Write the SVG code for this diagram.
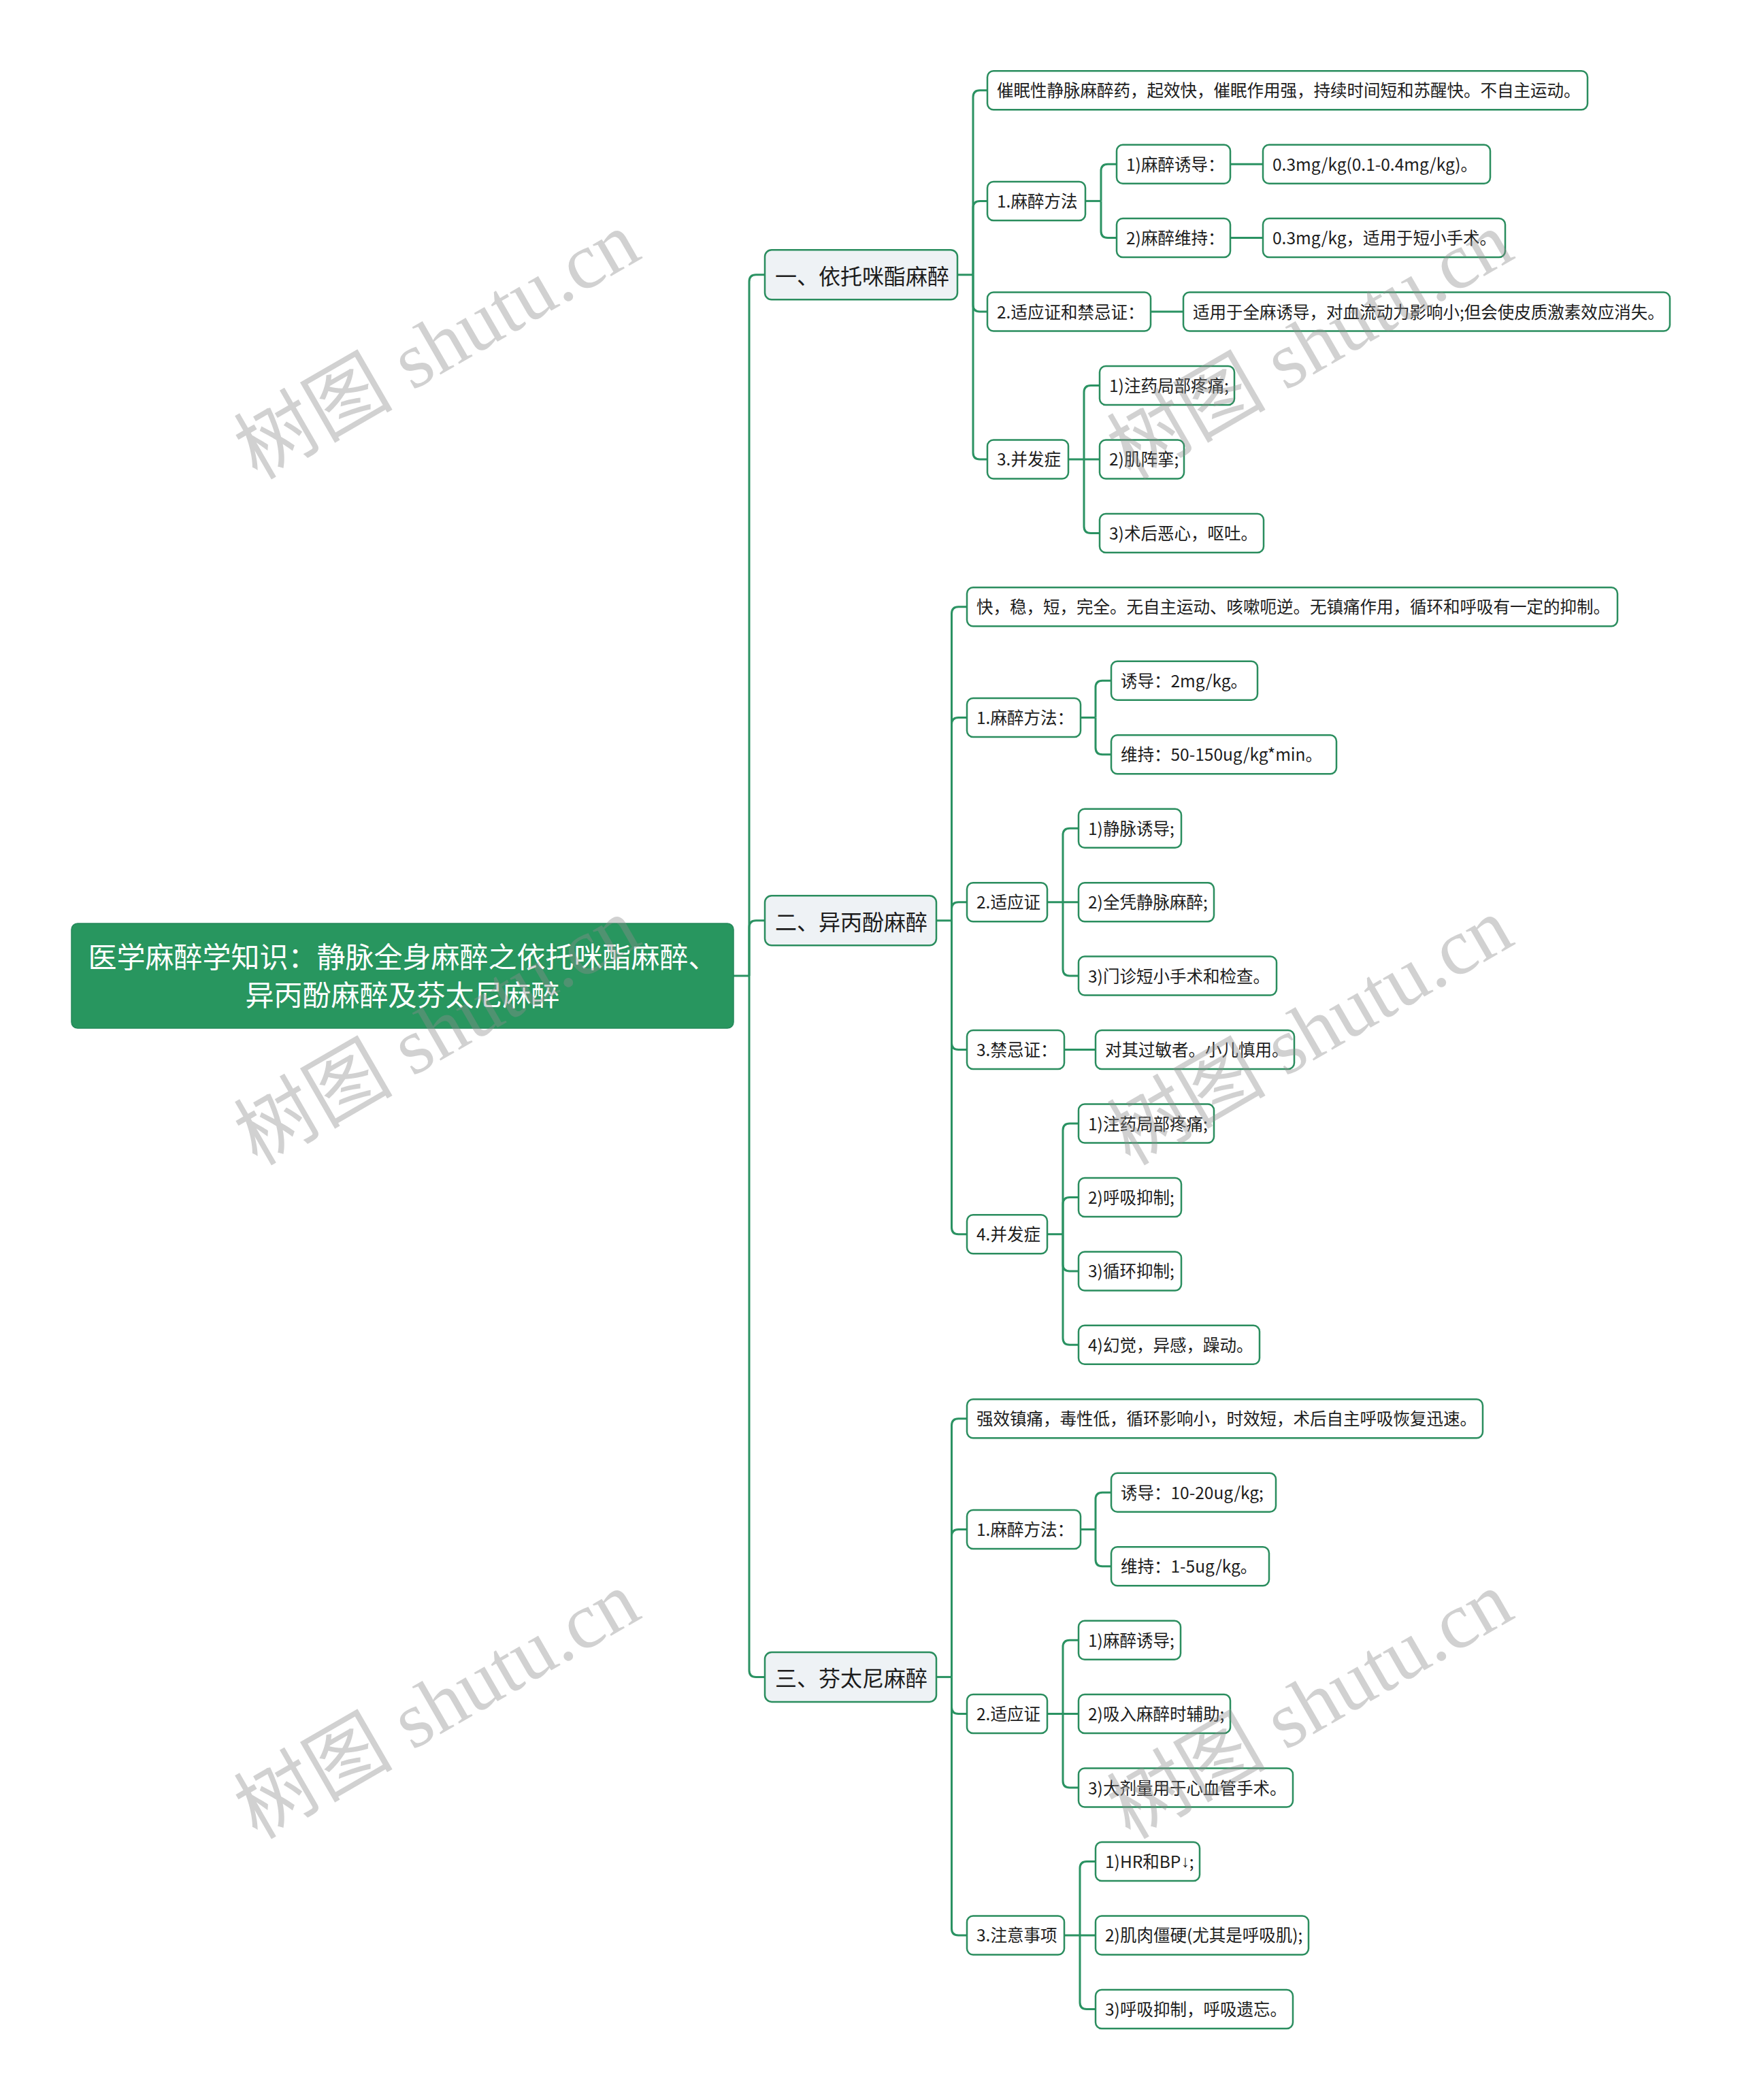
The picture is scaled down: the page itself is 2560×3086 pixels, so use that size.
<svg xmlns="http://www.w3.org/2000/svg" width="2560" height="3086" viewBox="0 0 2560 3086">
<style>
.bg{fill:#ffffff}
.n rect{fill:#ffffff;stroke:#2a8d5e;stroke-width:2.5}
.n text{font-family:"Noto Sans CJK SC","Noto Sans",sans-serif;font-size:24.5px;fill:#1c1c1c;dominant-baseline:central}
.arr{font-family:"Liberation Sans","DejaVu Sans",sans-serif}
.l1 rect{fill:#eef2f5;stroke:#2a8d5e;stroke-width:2.5}
.l1 text{font-family:"Noto Sans CJK SC","Noto Sans",sans-serif;font-size:32px;fill:#1c1c1c;dominant-baseline:central}
.root rect{fill:#28965f;stroke:#23885a;stroke-width:1.5}
.root text{font-family:"Noto Sans CJK SC","Noto Sans",sans-serif;font-size:42px;fill:#ffffff;text-anchor:middle;dominant-baseline:central}
.links path{fill:none;stroke:#2a9262;stroke-width:3}
.wm text{font-family:"Liberation Serif","Noto Sans CJK SC",serif;font-size:117px;fill:#8c8c8c;fill-opacity:0.4;text-anchor:middle}
</style>
<rect class="bg" x="0" y="0" width="2560" height="3086"/>
<g class="links">
<path d="M1078 1434 H1101"/>
<path d="M1101 1434 V413.8 Q1101 403.8 1111 403.8 H1124"/>
<path d="M1101 1434 V1362.8 Q1101 1352.8 1111 1352.8 H1124"/>
<path d="M1101 1434 V2454.4 Q1101 2464.4 1111 2464.4 H1124"/>
<path d="M1407 403.8 H1430"/>
<path d="M1430 403.8 V142.7 Q1430 132.7 1440 132.7 H1451"/>
<path d="M1430 403.8 V305.4 Q1430 295.4 1440 295.4 H1451"/>
<path d="M1430 403.8 V448.05 Q1430 458.05 1440 458.05 H1451"/>
<path d="M1430 403.8 V664.95 Q1430 674.95 1440 674.95 H1451"/>
<path d="M1595 295.4 H1618"/>
<path d="M1618 295.4 V251.15 Q1618 241.15 1628 241.15 H1641"/>
<path d="M1618 295.4 V339.6 Q1618 349.6 1628 349.6 H1641"/>
<path d="M1808 241.15 H1856"/>
<path d="M1808 349.6 H1856"/>
<path d="M1691 458.05 H1739"/>
<path d="M1570 674.95 H1616"/>
<path d="M1593 674.95 V576.5 Q1593 566.5 1603 566.5 H1616"/>
<path d="M1593 674.95 V773.4 Q1593 783.4 1603 783.4 H1616"/>
<path d="M1376 1352.8 H1398.5"/>
<path d="M1398.5 1352.8 V901.85 Q1398.5 891.85 1408.5 891.85 H1421"/>
<path d="M1398.5 1352.8 V1064.5 Q1398.5 1054.5 1408.5 1054.5 H1421"/>
<path d="M1398.5 1352.8 V1335.65 Q1398.5 1325.65 1408.5 1325.65 H1421"/>
<path d="M1398.5 1352.8 V1532.55 Q1398.5 1542.55 1408.5 1542.55 H1421"/>
<path d="M1398.5 1352.8 V1803.7 Q1398.5 1813.7 1408.5 1813.7 H1421"/>
<path d="M1588 1054.5 H1610"/>
<path d="M1610 1054.5 V1010.3 Q1610 1000.3 1620 1000.3 H1633"/>
<path d="M1610 1054.5 V1098.75 Q1610 1108.75 1620 1108.75 H1633"/>
<path d="M1539 1325.65 H1585"/>
<path d="M1562 1325.65 V1227.2 Q1562 1217.2 1572 1217.2 H1585"/>
<path d="M1562 1325.65 V1424.1 Q1562 1434.1 1572 1434.1 H1585"/>
<path d="M1564 1542.55 H1610"/>
<path d="M1539 1813.7 H1562"/>
<path d="M1562 1813.7 V1661 Q1562 1651 1572 1651 H1585"/>
<path d="M1562 1813.7 V1769.45 Q1562 1759.45 1572 1759.45 H1585"/>
<path d="M1562 1813.7 V1857.9 Q1562 1867.9 1572 1867.9 H1585"/>
<path d="M1562 1813.7 V1966.35 Q1562 1976.35 1572 1976.35 H1585"/>
<path d="M1376 2464.4 H1398.5"/>
<path d="M1398.5 2464.4 V2094.8 Q1398.5 2084.8 1408.5 2084.8 H1421"/>
<path d="M1398.5 2464.4 V2257.5 Q1398.5 2247.5 1408.5 2247.5 H1421"/>
<path d="M1398.5 2464.4 V2508.6 Q1398.5 2518.6 1408.5 2518.6 H1421"/>
<path d="M1398.5 2464.4 V2833.95 Q1398.5 2843.95 1408.5 2843.95 H1421"/>
<path d="M1588 2247.5 H1610"/>
<path d="M1610 2247.5 V2203.25 Q1610 2193.25 1620 2193.25 H1633"/>
<path d="M1610 2247.5 V2291.7 Q1610 2301.7 1620 2301.7 H1633"/>
<path d="M1539 2518.6 H1585"/>
<path d="M1562 2518.6 V2420.15 Q1562 2410.15 1572 2410.15 H1585"/>
<path d="M1562 2518.6 V2617.05 Q1562 2627.05 1572 2627.05 H1585"/>
<path d="M1564 2843.95 H1610"/>
<path d="M1587 2843.95 V2745.5 Q1587 2735.5 1597 2735.5 H1610"/>
<path d="M1587 2843.95 V2942.4 Q1587 2952.4 1597 2952.4 H1610"/>
</g>
<g id="root" class="root"><rect x="105" y="1357" width="973" height="154" rx="9"/><text x="591.5" y="1403">医学麻醉学知识：静脉全身麻醉之依托咪酯麻醉、</text><text x="591.5" y="1459">异丙酚麻醉及芬太尼麻醉</text></g>
<g id="n1" class="l1"><rect x="1124" y="367.3" width="283" height="73" rx="10"/><text x="1139" y="403.8">一、依托咪酯麻醉</text></g>
<g id="n2" class="l1"><rect x="1124" y="1316.3" width="252" height="73" rx="10"/><text x="1139" y="1352.8">二、异丙酚麻醉</text></g>
<g id="n3" class="l1"><rect x="1124" y="2427.9" width="252" height="73" rx="10"/><text x="1139" y="2464.4">三、芬太尼麻醉</text></g>
<g id="a0" class="n"><rect x="1451" y="104.2" width="882" height="57" rx="9"/><text x="1465" y="131.7">催眠性静脉麻醉药，起效快，催眠作用强，持续时间短和苏醒快。不自主运动。</text></g>
<g id="a1" class="n"><rect x="1451" y="266.9" width="144" height="57" rx="9"/><text x="1465" y="294.4">1.麻醉方法</text></g>
<g id="a1a" class="n"><rect x="1641" y="212.65" width="167" height="57" rx="9"/><text x="1655" y="240.15">1)麻醉诱导：</text></g>
<g id="a1a1" class="n"><rect x="1856" y="212.65" width="334" height="57" rx="9"/><text x="1870" y="240.15">0.3mg/kg(0.1-0.4mg/kg)。</text></g>
<g id="a1b" class="n"><rect x="1641" y="321.1" width="167" height="57" rx="9"/><text x="1655" y="348.6">2)麻醉维持：</text></g>
<g id="a1b1" class="n"><rect x="1856" y="321.1" width="356" height="57" rx="9"/><text x="1870" y="348.6">0.3mg/kg，适用于短小手术。</text></g>
<g id="a2" class="n"><rect x="1451" y="429.55" width="240" height="57" rx="9"/><text x="1465" y="457.05">2.适应证和禁忌证：</text></g>
<g id="a2a" class="n"><rect x="1739" y="429.55" width="715" height="57" rx="9"/><text x="1753" y="457.05">适用于全麻诱导，对血流动力影响小;但会使皮质激素效应消失。</text></g>
<g id="a3" class="n"><rect x="1451" y="646.45" width="119" height="57" rx="9"/><text x="1465" y="673.95">3.并发症</text></g>
<g id="a3a" class="n"><rect x="1616" y="538" width="198" height="57" rx="9"/><text x="1630" y="565.5">1)注药局部疼痛;</text></g>
<g id="a3b" class="n"><rect x="1616" y="646.45" width="124" height="57" rx="9"/><text x="1630" y="673.95">2)肌阵挛;</text></g>
<g id="a3c" class="n"><rect x="1616" y="754.9" width="241" height="57" rx="9"/><text x="1630" y="782.4">3)术后恶心，呕吐。</text></g>
<g id="b0" class="n"><rect x="1421" y="863.35" width="956" height="57" rx="9"/><text x="1435" y="890.85">快，稳，短，完全。无自主运动、咳嗽呃逆。无镇痛作用，循环和呼吸有一定的抑制。</text></g>
<g id="b1" class="n"><rect x="1421" y="1026" width="167" height="57" rx="9"/><text x="1435" y="1053.5">1.麻醉方法：</text></g>
<g id="b1a" class="n"><rect x="1633" y="971.8" width="215" height="57" rx="9"/><text x="1647" y="999.3">诱导：2mg/kg。</text></g>
<g id="b1b" class="n"><rect x="1633" y="1080.25" width="331" height="57" rx="9"/><text x="1647" y="1107.75">维持：50-150ug/kg*min。</text></g>
<g id="b2" class="n"><rect x="1421" y="1297.15" width="118" height="57" rx="9"/><text x="1435" y="1324.65">2.适应证</text></g>
<g id="b2a" class="n"><rect x="1585" y="1188.7" width="151" height="57" rx="9"/><text x="1599" y="1216.2">1)静脉诱导;</text></g>
<g id="b2b" class="n"><rect x="1585" y="1297.15" width="199" height="57" rx="9"/><text x="1599" y="1324.65">2)全凭静脉麻醉;</text></g>
<g id="b2c" class="n"><rect x="1585" y="1405.6" width="291" height="57" rx="9"/><text x="1599" y="1433.1">3)门诊短小手术和检查。</text></g>
<g id="b3" class="n"><rect x="1421" y="1514.05" width="143" height="57" rx="9"/><text x="1435" y="1541.55">3.禁忌证：</text></g>
<g id="b3a" class="n"><rect x="1610" y="1514.05" width="292" height="57" rx="9"/><text x="1624" y="1541.55">对其过敏者。小儿慎用。</text></g>
<g id="b4" class="n"><rect x="1421" y="1785.2" width="118" height="57" rx="9"/><text x="1435" y="1812.7">4.并发症</text></g>
<g id="b4a" class="n"><rect x="1585" y="1622.5" width="199" height="57" rx="9"/><text x="1599" y="1650">1)注药局部疼痛;</text></g>
<g id="b4b" class="n"><rect x="1585" y="1730.95" width="151" height="57" rx="9"/><text x="1599" y="1758.45">2)呼吸抑制;</text></g>
<g id="b4c" class="n"><rect x="1585" y="1839.4" width="151" height="57" rx="9"/><text x="1599" y="1866.9">3)循环抑制;</text></g>
<g id="b4d" class="n"><rect x="1585" y="1947.85" width="266" height="57" rx="9"/><text x="1599" y="1975.35">4)幻觉，异感，躁动。</text></g>
<g id="c0" class="n"><rect x="1421" y="2056.3" width="758" height="57" rx="9"/><text x="1435" y="2083.8">强效镇痛，毒性低，循环影响小，时效短，术后自主呼吸恢复迅速。</text></g>
<g id="c1" class="n"><rect x="1421" y="2219" width="167" height="57" rx="9"/><text x="1435" y="2246.5">1.麻醉方法：</text></g>
<g id="c1a" class="n"><rect x="1633" y="2164.75" width="242" height="57" rx="9"/><text x="1647" y="2192.25">诱导：10-20ug/kg;</text></g>
<g id="c1b" class="n"><rect x="1633" y="2273.2" width="232" height="57" rx="9"/><text x="1647" y="2300.7">维持：1-5ug/kg。</text></g>
<g id="c2" class="n"><rect x="1421" y="2490.1" width="118" height="57" rx="9"/><text x="1435" y="2517.6">2.适应证</text></g>
<g id="c2a" class="n"><rect x="1585" y="2381.65" width="150" height="57" rx="9"/><text x="1599" y="2409.15">1)麻醉诱导;</text></g>
<g id="c2b" class="n"><rect x="1585" y="2490.1" width="223" height="57" rx="9"/><text x="1599" y="2517.6">2)吸入麻醉时辅助;</text></g>
<g id="c2c" class="n"><rect x="1585" y="2598.55" width="315" height="57" rx="9"/><text x="1599" y="2626.05">3)大剂量用于心血管手术。</text></g>
<g id="c3" class="n"><rect x="1421" y="2815.45" width="143" height="57" rx="9"/><text x="1435" y="2842.95">3.注意事项</text></g>
<g id="c3a" class="n"><rect x="1610" y="2707" width="153" height="57" rx="9"/><text x="1624" y="2734.5">1)HR和BP<tspan class="arr">↓</tspan>;</text></g>
<g id="c3b" class="n"><rect x="1610" y="2815.45" width="313" height="57" rx="9"/><text x="1624" y="2842.95">2)肌肉僵硬(尤其是呼吸肌);</text></g>
<g id="c3c" class="n"><rect x="1610" y="2923.9" width="290" height="57" rx="9"/><text x="1624" y="2951.4">3)呼吸抑制，呼吸遗忘。</text></g>
<g class="wm">
<text transform="translate(662 542) rotate(-30)">树图 shutu.cn</text>
<text transform="translate(1945 542) rotate(-30)">树图 shutu.cn</text>
<text transform="translate(662 1550) rotate(-30)">树图 shutu.cn</text>
<text transform="translate(1945 1550) rotate(-30)">树图 shutu.cn</text>
<text transform="translate(662 2540) rotate(-30)">树图 shutu.cn</text>
<text transform="translate(1945 2540) rotate(-30)">树图 shutu.cn</text>
</g>
</svg>
